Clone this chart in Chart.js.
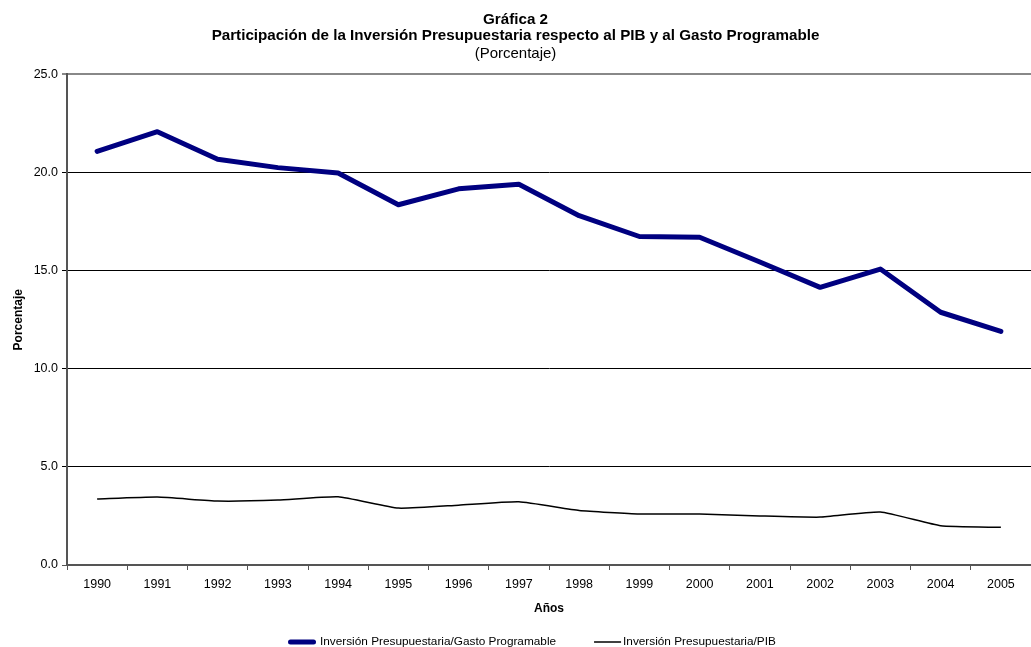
<!DOCTYPE html>
<html>
<head>
<meta charset="utf-8">
<script src="https://cdn.jsdelivr.net/npm/chart.js@4.4.0/dist/chart.umd.min.js"></script>
<style>
html,body{margin:0;padding:0;background:#fff;}
#wrap{width:1031px;height:647px;position:relative;}
</style>
</head>
<body>
<div id="wrap"><canvas id="c" width="1031" height="647"></canvas></div>
<script>
const years = ["1990","1991","1992","1993","1994","1995","1996","1997","1998","1999","2000","2001","2002","2003","2004","2005"];
const gastoProgramable = [21.08, 22.08, 20.68, 20.25, 19.98, 18.36, 19.17, 19.40, 17.80, 16.74, 16.70, 15.44, 14.15, 15.08, 12.88, 11.90];
const pib = [3.36, 3.46, 3.26, 3.31, 3.48, 2.90, 3.05, 3.22, 2.78, 2.60, 2.60, 2.50, 2.44, 2.70, 2.00, 1.92];
const yTicks = [0, 5, 10, 15, 20, 25];
const seriesNames = ["Inversión Presupuestaria/Gasto Programable", "Inversión Presupuestaria/PIB"];

const FONT = "'Liberation Sans', Arial, sans-serif";
Chart.defaults.font.family = FONT;
Chart.defaults.color = '#000';

const bottomLegend = {
  id: 'bottomLegend',
  afterDraw(chart) {
    const ctx = chart.ctx;
    ctx.save();
    ctx.font = "11.8px " + FONT;
    ctx.textBaseline = 'middle';
    ctx.textAlign = 'left';
    const y = 642;
    const ds0 = chart.data.datasets[0], ds1 = chart.data.datasets[1];
    // item 1: thick line with round caps
    ctx.beginPath();
    ctx.strokeStyle = ds0.borderColor;
    ctx.lineWidth = 5;
    ctx.lineCap = 'round';
    ctx.moveTo(290.5, y); ctx.lineTo(313.5, y); ctx.stroke();
    ctx.fillStyle = '#000';
    ctx.fillText(ds0.label, 320, y);
    let x = 320 + ctx.measureText(ds0.label).width + 38;
    // item 2: thin line
    ctx.beginPath();
    ctx.strokeStyle = ds1.borderColor;
    ctx.lineWidth = 1.5;
    ctx.lineCap = 'butt';
    ctx.moveTo(x, y); ctx.lineTo(x + 27, y); ctx.stroke();
    ctx.fillText(ds1.label, x + 29, y);
    ctx.restore();
  }
};

new Chart(document.getElementById('c'), {
  type: 'line',
  data: {
    labels: years,
    datasets: [
      { label: seriesNames[0], data: gastoProgramable, borderColor: '#000080', backgroundColor: '#000080',
        borderWidth: 5, pointRadius: 0, tension: 0, borderCapStyle: 'round', borderJoinStyle: 'round' },
      { label: seriesNames[1], data: pib, borderColor: '#000', backgroundColor: '#000',
        borderWidth: 1.5, pointRadius: 0, tension: 0.15 }
    ]
  },
  plugins: [bottomLegend],
  options: {
    responsive: false,
    animation: false,
    layout: { padding: { left: 0, right: 0, top: 0, bottom: 30 } },
    plugins: {
      title: {
        display: true,
        text: ['Gráfica 2', 'Participación de la Inversión Presupuestaria respecto al PIB y al Gasto Programable'],
        font: { size: 15.2, weight: 'bold', lineHeight: 1.05 },
        padding: { top: 12, bottom: 0 }
      },
      subtitle: {
        display: true,
        text: '(Porcentaje)',
        font: { size: 15, weight: 'normal', lineHeight: 1.2 },
        padding: { top: 1, bottom: 11.5 }
      },
      legend: { display: false },
      tooltip: { enabled: false }
    },
    scales: {
      x: {
        offset: true,
        afterFit(scale) { scale.height = 52; },
        title: { display: true, text: 'Años', font: { size: 12, weight: 'bold' }, padding: { top: 0, bottom: 1 } },
        grid: { offset: true, drawOnChartArea: false, drawTicks: true, tickLength: 5, color: '#555', lineWidth: 1 },
        border: { color: '#555', width: 2 },
        ticks: { font: { size: 12.5 }, padding: 7, maxRotation: 0, autoSkip: false }
      },
      y: {
        min: 0, max: 25,
        afterBuildTicks(scale) { scale.ticks = yTicks.map(v => ({ value: v })); },
        afterFit(scale) { scale.width = 67; },
        title: { display: true, text: 'Porcentaje', font: { size: 12, weight: 'bold' }, padding: { top: 11, bottom: 0 } },
        grid: {
          drawTicks: true, tickLength: 5,
          color: ctx => (ctx.tick && ctx.tick.value === 25) ? '#888' : (ctx.tick && ctx.tick.value === 0 ? '#555' : '#000'),
          lineWidth: ctx => (ctx.tick && ctx.tick.value === 25) ? 2 : 1
        },
        border: { color: '#555', width: 2 },
        ticks: { font: { size: 12.5 }, padding: 4, callback: v => Number(v).toFixed(1) }
      }
    }
  }
});
</script>
</body>
</html>
